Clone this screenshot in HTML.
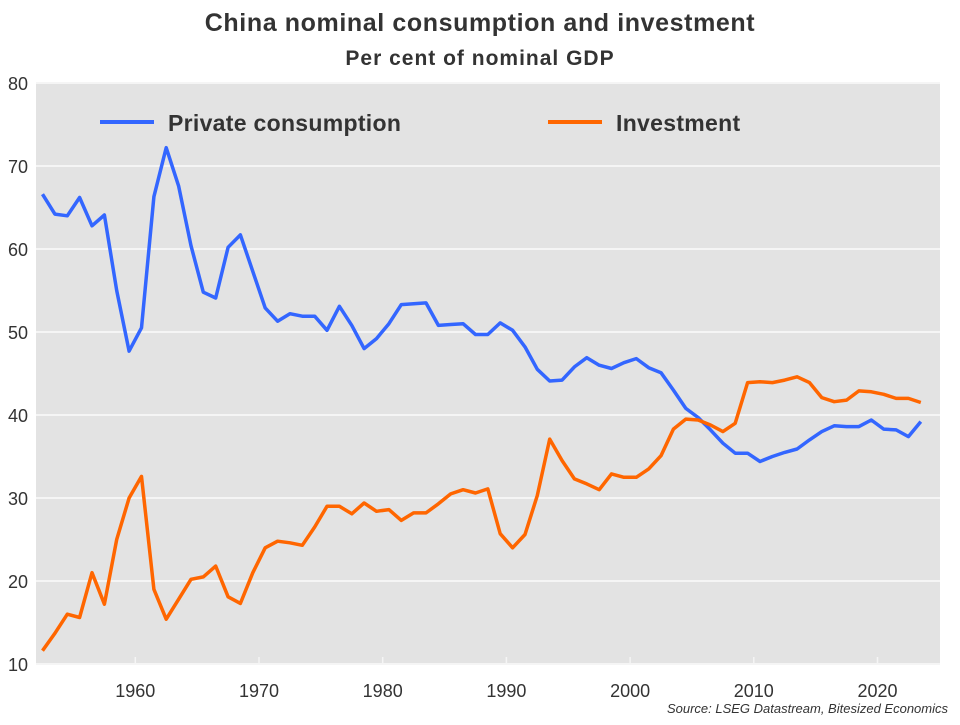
<!DOCTYPE html>
<html><head><meta charset="utf-8"><style>
html,body{margin:0;padding:0;background:#fff;}
svg text{font-family:"Liberation Sans",Arial,sans-serif;fill:#333;}
</style></head><body>
<svg id="chart" width="960" height="720" viewBox="0 0 960 720">
<text x="480" y="31" text-anchor="middle" font-size="25" font-weight="bold" letter-spacing="0.6">China nominal consumption and investment</text>
<text x="480" y="65" text-anchor="middle" font-size="21" font-weight="bold" letter-spacing="1">Per cent of nominal GDP</text>
<rect x="36" y="83" width="904" height="581" fill="#e3e3e3"/>
<g id="grid"></g>
<g id="yticks"></g>
<g id="xticks"></g>
<g id="series"></g>
<g>
<line x1="100" y1="122" x2="154" y2="122" stroke="#3366ff" stroke-width="4"/>
<text x="168" y="131" font-size="23" font-weight="bold" letter-spacing="0.3" fill="#333">Private consumption</text>
<line x1="548" y1="122" x2="602" y2="122" stroke="#ff6600" stroke-width="4"/>
<text x="616" y="131" font-size="23" font-weight="bold" letter-spacing="0.3" fill="#333">Investment</text>
</g>
<text x="948" y="713" text-anchor="end" font-size="13" font-style="italic">Source: LSEG Datastream, Bitesized Economics</text>
</svg>
<script>
const startYear = 1952;
const consumption = [66.6,64.2,64.0,66.2,62.8,64.1,55.0,47.7,50.5,66.3,72.2,67.6,60.4,54.8,54.1,60.2,61.7,57.3,52.9,51.3,52.2,51.9,51.9,50.2,53.1,
50.8,48.0,49.2,51.0,53.3,53.4,53.5,50.8,50.9,51.0,49.7,49.7,51.1,50.2,48.2,45.5,44.1,44.2,45.8,46.9,46.0,45.6,46.3,46.8,45.7,45.1,
43.0,40.8,39.7,38.2,36.6,35.4,35.4,34.4,35.0,35.5,35.9,37.0,38.0,38.7,38.6,38.6,39.4,38.3,38.2,37.4,39.2];
const investment = [11.6,13.7,16.0,15.6,21.0,17.2,25.0,30.0,32.6,19.0,15.4,17.8,20.2,20.5,21.8,18.1,17.3,21.0,24.0,24.8,24.6,24.3,26.5,29.0,29.0,
28.1,29.4,28.4,28.6,27.3,28.2,28.2,29.3,30.5,31.0,30.6,31.1,25.7,24.0,25.6,30.3,37.1,34.5,32.3,31.7,31.0,32.9,32.5,32.5,33.5,35.1,
38.3,39.5,39.4,38.8,38.0,39.0,43.9,44.0,43.9,44.2,44.6,43.9,42.1,41.6,41.8,42.9,42.8,42.5,42.0,42.0,41.5];
const yTicks = [10,20,30,40,50,60,70,80];
const xTicks = [1960,1970,1980,1990,2000,2010,2020];

const NS = "http://www.w3.org/2000/svg";
function xs(yr){ return 135.3 + (yr - 1960) * 12.37; }
function ys(v){ return 664 - (v - 10) * 8.3; }
function mk(tag, attrs, parent){ const e=document.createElementNS(NS,tag); for(const k in attrs) e.setAttribute(k,attrs[k]); parent.appendChild(e); return e; }

const grid=document.getElementById('grid'), yt=document.getElementById('yticks'), xt=document.getElementById('xticks'), ser=document.getElementById('series');
yTicks.forEach(v=>{
  const l=mk('line',{x1:36,x2:940,y1:ys(v),y2:ys(v),stroke:'#f5f5f5','stroke-width':2},grid);
  
  
  const t=mk('text',{x:28,y:ys(v)+7,'text-anchor':'end','font-size':18},yt);
  t.textContent=v;
  
  
});
xTicks.forEach(v=>{
  const l=mk('line',{x1:xs(v),x2:xs(v),y1:657,y2:664,stroke:'#f5f5f5','stroke-width':1.5},xt);
  
  
  const t=mk('text',{x:xs(v),y:697,'text-anchor':'middle','font-size':18},xt);
  t.textContent=v;
  
  
});
function pts(arr){ return arr.map((v,i)=>xs(startYear+i+0.5).toFixed(1)+','+ys(v).toFixed(1)).join(' '); }
const p1=mk('polyline',{points:pts(consumption),fill:'none',stroke:'#3366ff','stroke-width':3.5,'stroke-linejoin':'round'},ser);


const p2=mk('polyline',{points:pts(investment),fill:'none',stroke:'#ff6600','stroke-width':3.5,'stroke-linejoin':'round'},ser);


</script>
</body></html>
